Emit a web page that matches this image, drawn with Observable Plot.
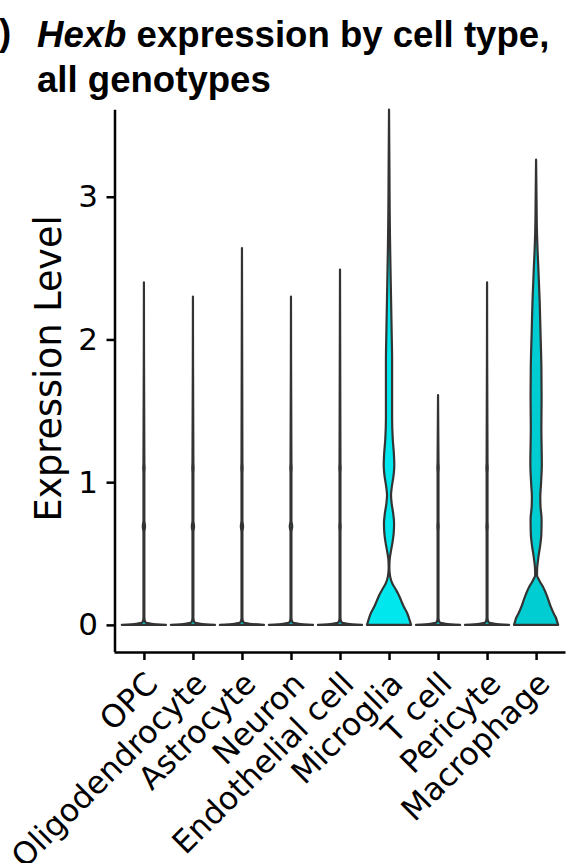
<!DOCTYPE html>
<html>
<head>
<meta charset="utf-8">
<script src="https://cdn.jsdelivr.net/npm/d3@7"></script>
<script src="https://cdn.jsdelivr.net/npm/@observablehq/plot@0.6"></script>
<style>
  html, body { margin: 0; padding: 0; background: #fff; }
  #wrap { position: relative; width: 572px; height: 863px; overflow: hidden; }
  #chart { position: absolute; left: 0; top: 0; }
  #title { position: absolute; left: 0; top: 0; width: 572px; font-family: "Liberation Sans", Arial, sans-serif;
           font-weight: bold; font-size: 36.6px; line-height: 45px; color: #000; }
  #title .lbl { position: absolute; left: -1px; top: 10px; }
  #title .line { position: absolute; left: 37px; white-space: nowrap; }
</style>
</head>
<body>
<div id="wrap">
  <div id="chart"></div>
  <div id="title">
    <span class="lbl">)</span>
    <span class="line" style="top:12px"><i>Hexb</i> expression by cell type,</span>
    <span class="line" style="top:57px">all genotypes</span>
  </div>
</div>
<script>
// ---- data ----
const categories = ["OPC", "Oligodendrocyte", "Astrocyte", "Neuron", "Endothelial cell",
                    "Microglia", "T cell", "Pericyte", "Macrophage"];
const yTicks = [0, 1, 2, 3];
const yTitle = "Expression Level";
const fills = ["#00E3EA", "#00E3EA", "#00E3EA", "#00E3EA", "#00E3EA",
               "#00E8EE", "#00E3EA", "#00E3EA", "#00CDD1"];

// violin profiles: [expression level, relative width (1 = widest)]
const opcProfile = [[0,1],[0.008,0.35],[0.02,0.06],[0.05,0.02],[0.65,0.02],[0.69,0.05],[0.73,0.02],[1.06,0.02],[1.10,0.03],[1.14,0.02],[2.40,0]];
const oligoProfile = [[0,1],[0.008,0.35],[0.02,0.06],[0.05,0.02],[0.65,0.02],[0.69,0.05],[0.73,0.02],[1.06,0.02],[1.10,0.03],[1.14,0.02],[2.30,0]];
const astroProfile = [[0,1],[0.008,0.35],[0.02,0.06],[0.05,0.02],[0.65,0.02],[0.69,0.05],[0.73,0.02],[1.06,0.02],[1.10,0.03],[1.14,0.02],[2.64,0]];
const neuronProfile = [[0,1],[0.008,0.35],[0.02,0.06],[0.05,0.02],[0.65,0.02],[0.69,0.055],[0.73,0.02],[1.06,0.02],[1.10,0.03],[1.14,0.02],[2.30,0]];
const endoProfile = [[0,1],[0.008,0.35],[0.02,0.06],[0.05,0.02],[0.65,0.02],[0.69,0.03],[0.73,0.02],[1.06,0.02],[1.10,0.03],[1.14,0.02],[2.49,0]];
const microgliaProfile = [[0,1],[0.02,0.96],[0.05,0.9],[0.08,0.83],[0.13,0.66],[0.17,0.55],[0.21,0.44],[0.25,0.3],[0.29,0.15],[0.34,0.05],[0.40,0.015],[0.46,0.03],[0.52,0.09],[0.58,0.16],[0.64,0.21],[0.71,0.23],[0.78,0.19],[0.85,0.12],[0.91,0.09],[0.97,0.13],[1.04,0.2],[1.12,0.24],[1.2,0.22],[1.3,0.17],[1.45,0.14],[1.65,0.14],[1.85,0.14],[2.05,0.12],[2.3,0.09],[2.51,0.065],[2.7,0.045],[2.9,0.03],[3.2,0.018],[3.61,0]];
const tcellProfile = [[0,1],[0.008,0.35],[0.02,0.06],[0.05,0.02],[0.65,0.02],[0.69,0.03],[0.73,0.02],[1.06,0.02],[1.10,0.03],[1.14,0.02],[1.61,0]];
const pericyteProfile = [[0,1],[0.008,0.35],[0.02,0.06],[0.05,0.02],[0.65,0.02],[0.69,0.03],[0.73,0.02],[1.06,0.02],[1.10,0.03],[1.14,0.02],[2.40,0]];
const macrophageProfile = [[0,1],[0.02,0.96],[0.05,0.9],[0.08,0.8],[0.13,0.66],[0.2,0.5],[0.27,0.3],[0.31,0.15],[0.35,0.04],[0.40,0.05],[0.48,0.11],[0.56,0.19],[0.64,0.24],[0.74,0.25],[0.83,0.2],[0.9,0.19],[0.98,0.22],[1.13,0.26],[1.37,0.24],[1.6,0.25],[1.81,0.24],[2.05,0.2],[2.28,0.16],[2.51,0.1],[2.63,0.065],[2.75,0.04],[2.98,0.02],[3.26,0]];

const profiles = [opcProfile, oligoProfile, astroProfile, neuronProfile, endoProfile,
                  microgliaProfile, tcellProfile, pericyteProfile, macrophageProfile];

// ---- build table ----
const rows = [];
profiles.forEach((p, i) => p.forEach(([y, w]) => rows.push({cat: categories[i], i, y, w, fill: fills[i]})));
const maxExpr = profiles.map(p => d3.max(p, d => d[0]));

const halfWidth = 0.45;           // violin width = 0.9 of the category step
const xDomain = [-0.6, categories.length - 1 + 0.6];
const yDomain = [-0.19, 3.79];
const ink = "#333333";
const xTickValues = d3.range(categories.length);

const plot = Plot.plot({
  width: 572,
  height: 863,
  marginLeft: 114.5,
  marginRight: 6.5,
  marginTop: 84,
  marginBottom: 211,
  style: {fontFamily: "'DejaVu Sans', sans-serif", color: "#000", background: "#fff"},
  x: {domain: xDomain, axis: null},
  y: {domain: yDomain, axis: null},
  color: {type: "identity"},
  marks: [
    Plot.areaX(rows, {
      y: "y",
      x1: d => d.i - d.w * halfWidth,
      x2: d => d.i + d.w * halfWidth,
      z: "cat",
      fill: "fill",
      stroke: ink,
      strokeWidth: 2.2,
      strokeLinejoin: "round",
      curve: "monotone-y"
    }),
    Plot.ruleX([xDomain[0]], {y1: yDomain[0], y2: d3.max(maxExpr), stroke: "#000", strokeWidth: 2.5}),
    Plot.ruleY([yDomain[0]], {x1: xDomain[0], x2: xDomain[1], stroke: "#000", strokeWidth: 2.5}),
    Plot.axisY({ticks: yTicks, tickFormat: d => String(d), tickSize: 8, tickPadding: 9,
                fontSize: 31, label: null, strokeWidth: 2.5}),
    // x tick marks
    Plot.axisX({ticks: xTickValues, tickFormat: () => "", tickSize: 8, label: null, strokeWidth: 2.5}),
    // x tick labels, rotated
    Plot.axisX({ticks: xTickValues, tickFormat: i => categories[i], tickSize: 0, tickPadding: 14,
                tickRotate: -45, fontSize: 31.5, label: null, dx: 8, dy: 12}),
    Plot.text([yTitle], {frameAnchor: "left", rotate: -90, dx: -54, fontSize: 36.5,
                         textAnchor: "middle", lineAnchor: "bottom", fill: "#000"})
  ]
});
document.getElementById("chart").appendChild(plot);
</script>
</body>
</html>
